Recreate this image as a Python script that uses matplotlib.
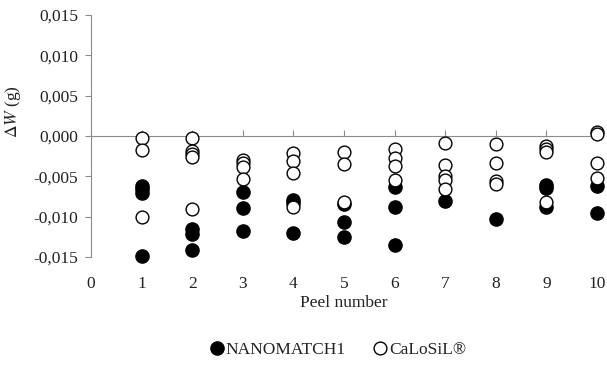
import matplotlib
matplotlib.use("Agg")
import matplotlib.pyplot as plt
from matplotlib.lines import Line2D

plt.rcParams['font.family'] = ['Liberation Serif', 'DejaVu Serif']
plt.rcParams['mathtext.fontset'] = 'stix'

# NANOMATCH1 (filled)
nano_x = [1, 1, 1, 1,
          2, 2, 2,
          3, 3, 3,
          4, 4, 4,
          5, 5, 5,
          6, 6, 6,
          7,
          8,
          9, 9, 9,
          10, 10]
nano_y = [-0.0062, -0.0066, -0.0071, -0.0149,
          -0.0115, -0.0121, -0.0141,
          -0.0069, -0.0089, -0.0118,
          -0.0079, -0.0083, -0.0120,
          -0.0084, -0.0107, -0.0125,
          -0.0063, -0.0088, -0.0135,
          -0.0081,
          -0.0103,
          -0.0061, -0.0065, -0.0088,
          -0.0062, -0.0096]

# CaLoSiL (open)
calo_x = [1, 1, 1,
          2, 2, 2, 2, 2,
          3, 3, 3, 3,
          4, 4, 4, 4,
          5, 5, 5,
          6, 6, 6, 6,
          7, 7, 7, 7, 7,
          8, 8, 8, 8,
          9, 9, 9, 9,
          10, 10, 10, 10]
calo_y = [-0.0003, -0.0017, -0.0101,
          -0.0002, -0.0018, -0.0022, -0.0026, -0.0091,
          -0.0030, -0.0034, -0.0038, -0.0053,
          -0.0021, -0.0031, -0.0046, -0.0088,
          -0.0020, -0.0035, -0.0082,
          -0.0016, -0.0027, -0.0037, -0.0054,
          -0.0009, -0.0036, -0.0050, -0.0055, -0.0066,
          -0.0010, -0.0033, -0.0056, -0.0059,
          -0.0012, -0.0016, -0.0020, -0.0082,
          0.0005, 0.0003, -0.0033, -0.0052]

x_ticks = list(range(0, 11))
y_ticks = [-0.015, -0.010, -0.005, 0.000, 0.005, 0.010, 0.015]
y_labels = ["-0,015", "-0,010", "-0,005", "0,000", "0,005", "0,010", "0,015"]

fig = plt.figure(figsize=(6.07, 3.67), dpi=100)
ax = fig.add_axes([91/607, 1 - 257/367, (597 - 91)/607, (257 - 15)/367])

axis_color = '#8c8c8c'
text_color = '#222222'

ax.plot(nano_x, nano_y, linestyle='none', marker='o', markersize=9.5,
        markerfacecolor='black', markeredgecolor='black', clip_on=False, zorder=3)
ax.plot(calo_x, calo_y, linestyle='none', marker='o', markersize=9.2,
        markerfacecolor='white', markeredgecolor='black', markeredgewidth=1.0,
        clip_on=False, zorder=4)

ax.set_xlim(0, 10)
ax.set_ylim(-0.015, 0.015)

for s in ['top', 'right']:
    ax.spines[s].set_visible(False)
ax.spines['left'].set_color(axis_color)
ax.spines['bottom'].set_color(axis_color)
ax.spines['bottom'].set_position(('data', 0))

ax.set_xticks(x_ticks)
ax.set_xticklabels([str(t) for t in x_ticks])
ax.tick_params(axis='x', direction='in', length=4, color=axis_color,
               pad=101, labelsize=12.5, labelcolor=text_color)
ax.set_yticks(y_ticks)
ax.set_yticklabels(y_labels)
ax.tick_params(axis='y', direction='out', length=4, color=axis_color,
               labelsize=12.5, labelcolor=text_color, pad=5)

fig.text(13/607, 1 - 112/367, r'$\Delta\mathit{W}$' + ' (g)', rotation=90,
         ha='center', va='center', fontsize=12.5, color=text_color)

fig.text(0.567, 1 - 303/367, 'Peel number', ha='center', va='center',
         fontsize=12.5, color=text_color)

handles = [
    Line2D([], [], linestyle='none', marker='o', markersize=9.5,
           markerfacecolor='black', markeredgecolor='black'),
    Line2D([], [], linestyle='none', marker='o', markersize=9.2,
           markerfacecolor='white', markeredgecolor='black', markeredgewidth=1.0),
]
fig.legend(handles, ['NANOMATCH1', 'CaLoSiL®'], loc='center',
           bbox_to_anchor=(0.555, 1 - 350/367), ncol=2, frameon=False,
           fontsize=12.5, handletextpad=0.0, columnspacing=1.5,
           handlelength=1.0, labelcolor=text_color)

fig.savefig('out.png', dpi=100)
